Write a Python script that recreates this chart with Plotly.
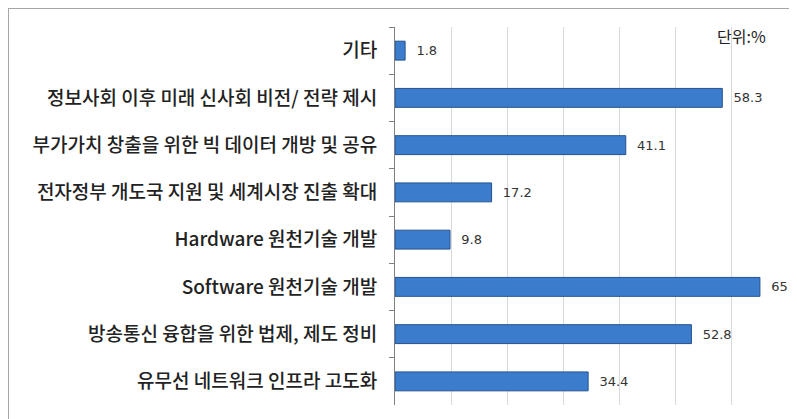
import plotly.graph_objects as go

categories = [
    "기타",
    "정보사회 이후 미래 신사회 비전/ 전략 제시",
    "부가가치 창출을 위한 빅 데이터 개방 및 공유",
    "전자정부 개도국 지원 및 세계시장 진출 확대",
    "Hardware 원천기술 개발",
    "Software 원천기술 개발",
    "방송통신 융합을 위한 법제, 제도 정비",
    "유무선 네트워크 인프라 고도화",
]
values = [1.8, 58.3, 41.1, 17.2, 9.8, 65, 52.8, 34.4]
value_labels = ["  1.8", "  58.3", "  41.1", "  17.2", "  9.8", "  65", "  52.8", "  34.4"]

L, R, T, B = 387, 9, 19, 14
W, H = 789, 411
plot_w = W - L - R
plot_h = H - T - B

fig = go.Figure(go.Bar(
    x=values, y=categories, orientation="h",
    width=0.4,
    marker=dict(color="#3b7dcc", line=dict(color="#24528f", width=1)),
    text=value_labels, textposition="outside",
    textfont=dict(family="DejaVu Sans, Verdana", size=13, color="#333333"),
    cliponaxis=False,
))

fig.update_layout(
    width=W, height=H,
    margin=dict(l=L, r=R, t=T, b=B),
    paper_bgcolor="white", plot_bgcolor="white",
    showlegend=False,
    font=dict(family="Noto Sans CJK KR", color="#222222"),
    xaxis=dict(range=[0, 70], dtick=10, showgrid=True, gridcolor="#d9d9d9",
               gridwidth=1, showticklabels=False, zeroline=False,
               showline=False, ticks=""),
    yaxis=dict(autorange="reversed", type="category", showline=True,
               linecolor="#7f7f7f", linewidth=1, ticks="outside", ticklen=5,
               tickcolor="#7f7f7f", tickson="boundaries",
               tickfont=dict(family="Noto Sans CJK KR", size=19, color="#222222",
                             weight=500),
               ticklabelstandoff=13),
    shapes=[dict(type="rect", xref="paper", yref="paper",
                 x0=-L / plot_w, x1=1.2, y0=-0.2, y1=1 + T / plot_h,
                 line=dict(color="#a6a6a6", width=2), layer="below")],
    annotations=[dict(text="단위:%", xref="paper", yref="paper",
                      x=0.949, y=0.976, xanchor="right", yanchor="middle",
                      showarrow=False,
                      font=dict(family="Noto Sans CJK KR", size=16, color="#222222"))],
)

fig.write_html("out.html")
